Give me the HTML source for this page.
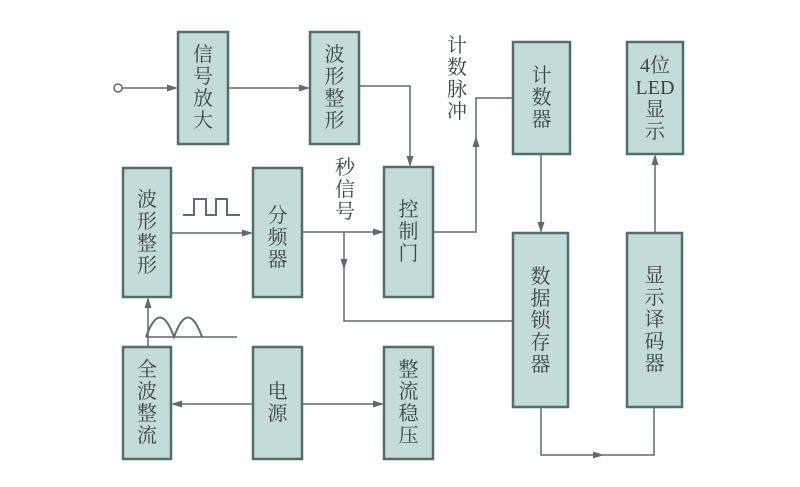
<!DOCTYPE html>
<html><head><meta charset="utf-8"><style>
html,body{margin:0;padding:0;background:#fff;}
svg{display:block;}
text{font-family:"Liberation Serif","Noto Serif CJK SC","Noto Sans CJK SC",serif;font-size:20px;fill:#3c4442;text-anchor:middle;dominant-baseline:central;}
</style></head><body>
<svg width="800" height="487" viewBox="0 0 800 487" xmlns="http://www.w3.org/2000/svg">
<rect width="800" height="487" fill="#fff"/>
<g fill="#c3dcd9" stroke="#506f6b" stroke-width="2.5">
<rect x="178" y="32" width="50" height="112"/>
<rect x="310" y="32" width="49" height="112"/>
<rect x="513" y="42" width="57" height="112"/>
<rect x="627" y="42" width="56" height="112"/>
<rect x="123" y="168" width="48" height="129"/>
<rect x="253" y="168" width="49" height="129"/>
<rect x="384" y="167" width="49" height="130"/>
<rect x="513" y="233" width="55" height="174"/>
<rect x="627" y="233" width="55" height="174"/>
<rect x="123" y="347" width="48" height="112"/>
<rect x="253" y="347" width="49" height="112"/>
<rect x="384" y="347" width="49" height="112"/>
</g>
<g fill="none" stroke="#5d6d6b" stroke-width="1.5">
<circle cx="118" cy="88" r="4" fill="#fff"/>
<line x1="122" y1="88" x2="176" y2="88"/>
<line x1="228" y1="88" x2="308" y2="88"/>
<polyline points="359,86 410,86 410,165"/>
<line x1="171" y1="233" x2="251" y2="233"/>
<line x1="302" y1="232" x2="382" y2="232"/>
<polyline points="344,232 344,321 513,321"/>
<polyline points="433,232 476,232 476,98 513,98"/>
<line x1="541" y1="154" x2="541" y2="231"/>
<polyline points="541,407 541,455 654,455 654,407"/>
<line x1="655" y1="233" x2="655" y2="156"/>
<line x1="148" y1="347" x2="148" y2="299"/>
<line x1="173" y1="404" x2="253" y2="404"/>
<line x1="302" y1="404" x2="382" y2="404"/>
<polyline points="183,215 194,215 194,199 206,199 206,215 216,215 216,199 227,199 227,215 240,215" stroke-width="2"/>
<path d="M146,337 Q160,298 174,337 Q188,298 202,337" stroke-width="2"/>
<line x1="146" y1="337" x2="237" y2="337"/>
</g>
<g fill="#5d6d6b">
<polygon points="178,88 167,84.5 167,91.5"/>
<polygon points="310,88 299,84.5 299,91.5"/>
<polygon points="410,167 406.5,156 413.5,156"/>
<polygon points="253,233 242,229.5 242,236.5"/>
<polygon points="384,232 373,228.5 373,235.5"/>
<polygon points="344,270 340.5,259 347.5,259"/>
<polygon points="476,136 472.5,147 479.5,147"/>
<polygon points="541,233 537.5,222 544.5,222"/>
<polygon points="604,455 593,451.5 593,458.5"/>
<polygon points="655,154 651.5,165 658.5,165"/>
<polygon points="148,297 144.5,308 151.5,308"/>
<polygon points="171,404 182,400.5 182,407.5"/>
<polygon points="384,404 373,400.5 373,407.5"/>
</g>
<g>
<text x="203" y="55">信</text><text x="203" y="77">号</text><text x="203" y="99">放</text><text x="203" y="121">大</text>
<text x="334.5" y="55">波</text><text x="334.5" y="77">形</text><text x="334.5" y="99">整</text><text x="334.5" y="121">形</text>
<text x="541.5" y="76">计</text><text x="541.5" y="98">数</text><text x="541.5" y="120">器</text>
<text x="655" y="66">4位</text><text x="655" y="88">LED</text><text x="655" y="110">显</text><text x="655" y="132">示</text>
<text x="147" y="200">波</text><text x="147" y="222">形</text><text x="147" y="244">整</text><text x="147" y="266">形</text>
<text x="277.5" y="216">分</text><text x="277.5" y="238">频</text><text x="277.5" y="260">器</text>
<text x="408.5" y="210">控</text><text x="408.5" y="232">制</text><text x="408.5" y="254">门</text>
<text x="540.5" y="277">数</text><text x="540.5" y="299">据</text><text x="540.5" y="321">锁</text><text x="540.5" y="343">存</text><text x="540.5" y="365">器</text>
<text x="654.5" y="276">显</text><text x="654.5" y="298">示</text><text x="654.5" y="320">译</text><text x="654.5" y="342">码</text><text x="654.5" y="364">器</text>
<text x="147" y="370">全</text><text x="147" y="392">波</text><text x="147" y="414">整</text><text x="147" y="436">流</text>
<text x="277.5" y="392">电</text><text x="277.5" y="414">源</text>
<text x="408.5" y="370">整</text><text x="408.5" y="392">流</text><text x="408.5" y="414">稳</text><text x="408.5" y="436">压</text>
<text x="345" y="168">秒</text><text x="345" y="190">信</text><text x="345" y="212">号</text>
<text x="457" y="46">计</text><text x="457" y="68">数</text><text x="457" y="90">脉</text><text x="457" y="112">冲</text>
</g>
</svg>
</body></html>
